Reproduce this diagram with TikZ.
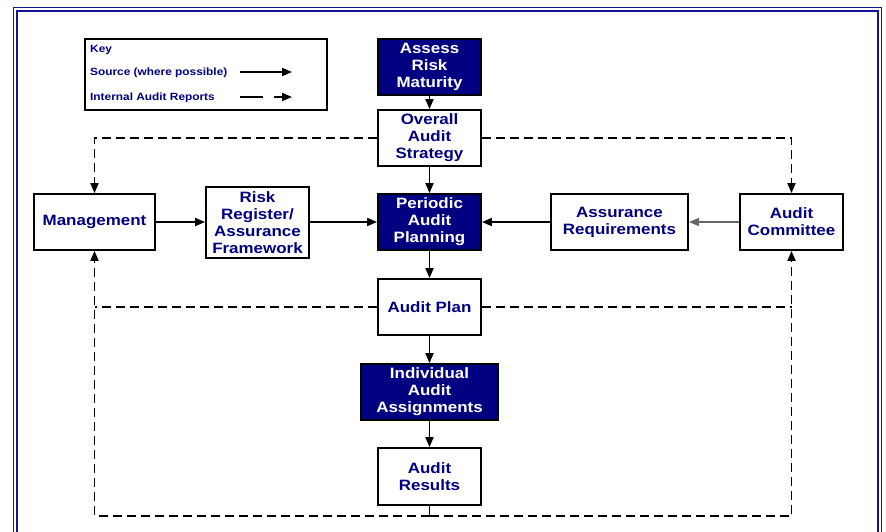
\documentclass[tikz,border=0pt]{standalone}
\usepackage{fontspec}
\setmainfont{Liberation Sans}[FakeStretch=1.13]
\usetikzlibrary{arrows.meta}
\definecolor{navy}{RGB}{0,0,128}
\definecolor{framec}{RGB}{20,20,150}
\tikzset{
  every node/.style={font=\bfseries\fontsize{15}{17}\selectfont},
  wbox/.style={draw=black, line width=1.8pt, fill=white, text=navy, align=center, inner sep=0pt},
  dbox/.style={draw=black, line width=1.8pt, fill=navy, text=white, align=center, inner sep=0pt},
  tip/.style={-{Triangle[length=10pt,width=8pt]}},
  conn/.style={line width=1.8pt, tip},
  dashline/.style={line width=1.8pt, dash pattern=on 9pt off 5pt},
  keytext/.style={font=\bfseries\fontsize{10.5}{12}\selectfont, text=navy, anchor=base west, inner sep=0pt},
}
\begin{document}
\begin{tikzpicture}[x=1pt,y=-1pt]
\useasboundingbox (0,0) rectangle (886,532);
\fill[white] (0,0) rectangle (886,532);
% frame
\draw[framec, line width=1.8pt] (13.5,7.5) rectangle (881.5,545);
\draw[framec, line width=1.8pt] (17,11) rectangle (878,545);
% key
\node[draw=black, line width=1.2pt, minimum width=242pt, minimum height=71pt, inner sep=0pt] (key) at (206,74.5) {};
\node[keytext] (k1) at (90,53) {Key};
\node[keytext] (k2) at (90,75.5) {Source (where possible)};
\node[keytext] (k3) at (90,100.5) {Internal Audit Reports};
\coordinate (s1) at (240,72);
\coordinate (e1) at (292,72);
\coordinate (s2) at (240,97);
\coordinate (e2) at (292,97);
\draw[line width=1.8pt, tip] (s1) -- (e1);
\draw[line width=1.8pt, tip, dash pattern=on 23pt off 11pt] (s2) -- (e2);
% nodes
\node[dbox, minimum width=103pt, minimum height=56pt] (assess) at (429.5,67) {Assess\\Risk\\Maturity};
\node[wbox, minimum width=103pt, minimum height=56pt] (overall) at (429.5,138) {Overall\\Audit\\Strategy};
\node[dbox, minimum width=103pt, minimum height=56pt] (periodic) at (429.5,222) {Periodic\\Audit\\Planning};
\node[wbox, minimum width=121pt, minimum height=56pt] (mgmt) at (94.5,222) {Management};
\node[wbox, minimum width=103pt, minimum height=71pt] (risk) at (257.5,222.5) {Risk\\Register/\\Assurance\\Framework};
\node[wbox, minimum width=137pt, minimum height=56pt] (assreq) at (619.5,222) {Assurance\\Requirements};
\node[wbox, minimum width=103pt, minimum height=56pt] (committee) at (791.5,222) {Audit\\Committee};
\node[wbox, minimum width=103pt, minimum height=56pt] (plan) at (429.5,307) {Audit Plan};
\node[dbox, minimum width=137pt, minimum height=56pt] (indiv) at (429.5,392) {Individual\\Audit\\Assignments};
\node[wbox, minimum width=103pt, minimum height=57pt] (results) at (429.5,476.5) {Audit\\Results};
% solid connectors
\draw[conn] (assess) -- (overall);
\draw[conn] (overall) -- (periodic);
\draw[conn] (mgmt) -- (risk.west |- mgmt.east);
\draw[conn] (risk.east |- periodic.west) -- (periodic.west);
\draw[conn] (assreq) -- (periodic);
\draw[conn, line width=1.3pt, black!60] (committee) -- (assreq);
\draw[conn] (periodic) -- (plan);
\draw[conn] (plan) -- (indiv);
\draw[conn] (indiv) -- (results);
% dashed connectors
\draw[dashline, tip] (overall.west) -| (mgmt.north);
\draw[dashline, tip] (overall.east) -| (committee.north);
\coordinate (rb) at (429.5,516);
\draw[line width=1.8pt] (results.south) -- (rb);
\draw[dashline, tip] (rb) -| (mgmt.south);
\draw[dashline, tip] (rb) -| (committee.south);
\draw[dashline] (plan.west) -- (mgmt.south |- plan.west);
\draw[dashline] (plan.east) -- (committee.south |- plan.east);
\end{tikzpicture}
\end{document}
